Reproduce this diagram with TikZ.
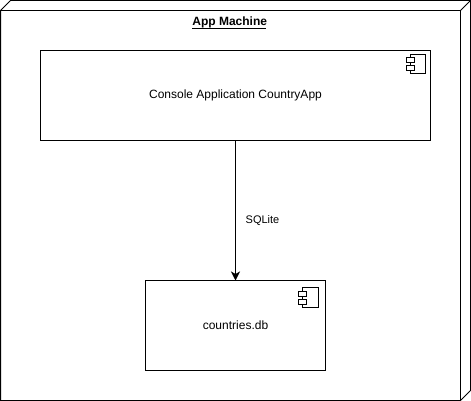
\documentclass[tikz,border=0pt]{standalone}
\usepackage{fontspec}
\setmainfont{Liberation Sans}
\usetikzlibrary{arrows.meta}
\tikzset{
  x=1pt,y=-1pt,
  line/.style={draw=black,line width=1pt},
  compbox/.style={line,rectangle,inner sep=0pt,outer sep=0pt,font=\fontsize{12}{14}\selectfont,anchor=north west},
  lbl/.style={font=\fontsize{12}{14}\selectfont,inner sep=0pt,outer sep=0pt},
  icon/.style={draw=black,line width=1pt,fill=white},
}
\newcommand{\compicon}[4]{%
  \begin{scope}[shift={(#1,#2)}]
    \draw[icon] (0,0) rectangle (#3,#4);
    \draw[icon] (-4,3.5) rectangle (4,8.5);
    \draw[icon] (-4,11.5) rectangle (4,16.5);
  \end{scope}}
\newcommand{\ultitle}[1]{\rlap{\rule[-2.4pt]{74pt}{0.8pt}}#1}
\begin{document}
\begin{tikzpicture}
\useasboundingbox (0,0) rectangle (471,401);
\draw[line] (0.5,10.5) -- (10.5,0.5) -- (470.5,0.5) -- (470.5,390.5) -- (460.5,400.5) -- (0.5,400.5) -- cycle;
\draw[line] (0.5,10.5) -- (460.5,10.5) -- (460.5,400.5);
\draw[line] (460.5,10.5) -- (470.5,0.5);
\node[lbl,font=\fontsize{12}{14}\selectfont\bfseries,anchor=base] (title) at (229.7,26) {\ultitle{App Machine}};
\node[compbox,minimum width=390pt,minimum height=90pt] (app) at (40.5,50.5) {\raisebox{3pt}{Console Application CountryApp}};
\node[compbox,minimum width=180pt,minimum height=90pt] (db) at (145.5,280.5) {countries.db};
\compicon{410.5}{54.5}{15}{19}
\compicon{302.5}{287.5}{16}{20}
\draw[line,-{Stealth[length=9pt,width=9pt,inset=2.5pt]}] (app.south-|db.north) -- (db.north) node[pos=0.575,lbl,font=\fontsize{11}{13}\selectfont,xshift=27pt] (sql) {SQLite};
\end{tikzpicture}
\end{document}
